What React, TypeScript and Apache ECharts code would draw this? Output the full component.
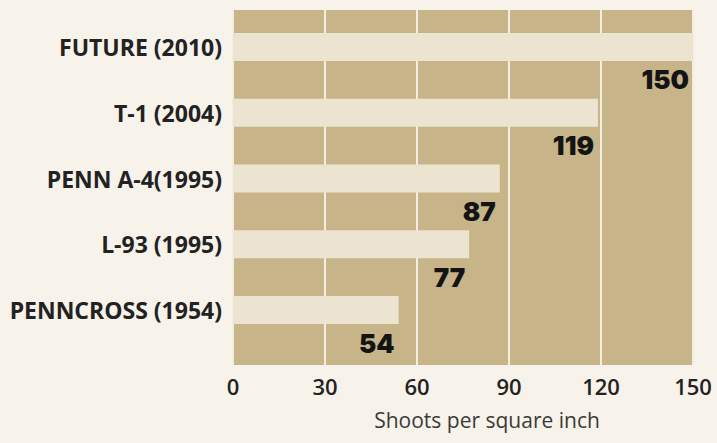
import React, { useEffect, useRef } from "react";
import * as echarts from "echarts";

const categories = [
  "FUTURE (2010)",
  "T-1 (2004)",
  "PENN A-4(1995)",
  "L-93 (1995)",
  "PENNCROSS (1954)",
];
const shoots = [150, 119, 87, 77, 54];
const xTicks = { min: 0, max: 150, interval: 30 };
const axisTitle = "Shoots per square inch";

export default function App() {
  const ref = useRef<HTMLDivElement>(null);
  useEffect(() => {
    document.body.style.margin = "0";
    document.body.style.background = "#f7f2ea";
    const chart = echarts.init(ref.current!, undefined, { renderer: "svg" });
    chart.setOption({
      animation: false,
      backgroundColor: "#f7f2ea",
      grid: [
        {
          left: 233,
          right: 24,
          top: 10,
          bottom: 78,
          show: true,
          backgroundColor: "#c8b489",
          borderWidth: 0,
        },
        { left: 233, right: 24, top: 14, height: 329 },
      ],
      xAxis: [
        {
          gridIndex: 0,
          type: "value",
          min: xTicks.min,
          max: xTicks.max,
          interval: xTicks.interval,
          axisLine: { show: false },
          axisTick: { show: false },
          axisLabel: {
            margin: 10,
            fontFamily: "Open Sans",
            fontWeight: 600,
            fontSize: 22,
            color: "#222",
          },
          splitLine: { show: true, lineStyle: { color: "#f4eee2", width: 2 } },
        },
        {
          gridIndex: 1,
          type: "value",
          min: xTicks.min,
          max: xTicks.max,
          show: false,
          splitLine: { show: false },
        },
      ],
      yAxis: [
        { gridIndex: 0, type: "value", min: 0, max: 1, show: false },
        {
          gridIndex: 1,
          type: "category",
          inverse: true,
          data: categories,
          axisLine: { show: false },
          axisTick: { show: false },
          axisLabel: {
            margin: 11,
            fontFamily: "Open Sans",
            fontWeight: "bold",
            fontSize: 23,
            color: "#222",
          },
        },
      ],
      series: [
        {
          type: "bar",
          xAxisIndex: 1,
          yAxisIndex: 1,
          data: shoots,
          barWidth: 28,
          itemStyle: { color: "#ece4d1" },
          label: {
            show: true,
            position: ["100%", "100%"],
            align: "right",
            verticalAlign: "middle",
            offset: [-4, 19],
            formatter: "{c}",
            fontFamily: "Inter",
            fontWeight: 900,
            fontSize: 26,
            color: "#141414",
          },
        },
      ],
      graphic: [
        {
          type: "text",
          x: 487,
          y: 420,
          style: {
            text: axisTitle,
            textAlign: "center",
            textVerticalAlign: "middle",
            fontFamily: "Open Sans",
            fontSize: 21,
            fill: "#3a3a3a",
          },
        },
      ],
    });
    return () => chart.dispose();
  }, []);
  return (
    <div
      ref={ref}
      style={{ position: "fixed", left: 0, top: 0, width: 717, height: 443 }}
    />
  );
}
